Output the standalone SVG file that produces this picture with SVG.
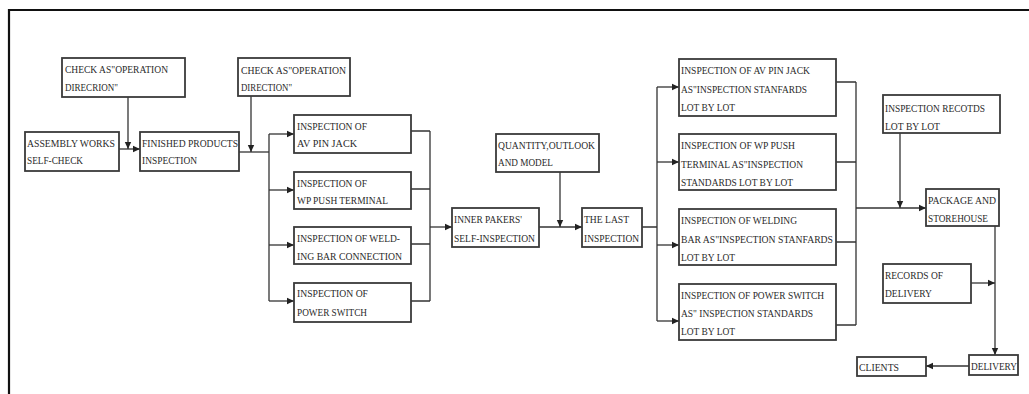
<svg xmlns="http://www.w3.org/2000/svg" width="1029" height="394" viewBox="0 0 1029 394">
<style>
.b{fill:#fff;stroke:#3a3a3a;stroke-width:1.8}
.t{font-family:"Liberation Serif","Times New Roman",serif;font-size:10.8px;fill:#2a2a2a}
.c{fill:none;stroke:#333;stroke-width:1.3}
.a{marker-end:url(#ah)}
</style>
<defs>
<marker id="ah" markerUnits="userSpaceOnUse" markerWidth="8" markerHeight="8" refX="7" refY="4" orient="auto">
<path d="M0,0.8 L7,4 L0,7.2 Z" fill="#222"/>
</marker>
</defs>
<rect width="1029" height="394" fill="#fff"/>
<path d="M9,394 V10 H1029" fill="none" stroke="#111" stroke-width="2.2"/>

<g id="connectors">
<path class="c a" d="M119,149 H140"/>
<path class="c a" d="M128,97 V149"/>
<path class="c" d="M239,152 H269"/>
<path class="c a" d="M251,96 V152"/>
<path class="c" d="M269,134 V301"/>
<path class="c a" d="M269,134 H294"/>
<path class="c a" d="M269,190 H294"/>
<path class="c a" d="M269,245 H294"/>
<path class="c a" d="M269,301 H294"/>
<path class="c" d="M411,131 H430 M411,189 H430 M411,244 H430 M411,301 H430 M430,131 V301"/>
<path class="c a" d="M430,227 H452"/>
<path class="c a" d="M539,227 H582"/>
<path class="c a" d="M560,172 V227"/>
<path class="c" d="M642,227 H657 M657,87 V321"/>
<path class="c a" d="M657,87 H679"/>
<path class="c a" d="M657,162 H679"/>
<path class="c a" d="M657,245 H679"/>
<path class="c a" d="M657,321 H679"/>
<path class="c" d="M836,82 H856 M836,162 H856 M836,242 H856 M836,325 H856 M856,82 V325"/>
<path class="c a" d="M856,208 H926"/>
<path class="c a" d="M900,133 V208"/>
<path class="c a" d="M995,226 V355"/>
<path class="c a" d="M971,283 H995"/>
<path class="c a" d="M969,366 H926"/>
</g>

<g id="check1">
<rect class="b" x="62" y="58" width="123" height="39"/>
<text class="t" x="65" y="73" textLength="103" lengthAdjust="spacingAndGlyphs">CHECK AS"OPERATION</text>
<text class="t" x="65" y="91" textLength="53" lengthAdjust="spacingAndGlyphs">DIRECRION"</text>
</g>
<g id="assembly">
<rect class="b" x="25" y="132" width="94" height="39"/>
<text class="t" x="27" y="147" textLength="88" lengthAdjust="spacingAndGlyphs">ASSEMBLY WORKS</text>
<text class="t" x="27" y="164" textLength="56" lengthAdjust="spacingAndGlyphs">SELF-CHECK</text>
</g>
<g id="finished">
<rect class="b" x="140" y="132" width="99" height="39"/>
<text class="t" x="142" y="147" textLength="96" lengthAdjust="spacingAndGlyphs">FINISHED PRODUCTS</text>
<text class="t" x="142" y="164" textLength="55" lengthAdjust="spacingAndGlyphs">INSPECTION</text>
</g>
<g id="check2">
<rect class="b" x="238" y="58" width="112" height="38"/>
<text class="t" x="241" y="74" textLength="105" lengthAdjust="spacingAndGlyphs">CHECK AS"OPERATION</text>
<text class="t" x="241" y="91" textLength="51" lengthAdjust="spacingAndGlyphs">DIRECTION"</text>
</g>
<g id="insp-av">
<rect class="b" x="294" y="115" width="117" height="38"/>
<text class="t" x="297" y="130" textLength="70" lengthAdjust="spacingAndGlyphs">INSPECTION OF</text>
<text class="t" x="297" y="147" textLength="60" lengthAdjust="spacingAndGlyphs">AV PIN JACK</text>
</g>
<g id="insp-wp">
<rect class="b" x="294" y="172" width="117" height="37"/>
<text class="t" x="297" y="187" textLength="70" lengthAdjust="spacingAndGlyphs">INSPECTION OF</text>
<text class="t" x="297" y="204" textLength="91" lengthAdjust="spacingAndGlyphs">WP PUSH TERMINAL</text>
</g>
<g id="insp-weld">
<rect class="b" x="294" y="227" width="117" height="37"/>
<text class="t" x="297" y="242" textLength="103" lengthAdjust="spacingAndGlyphs">INSPECTION OF WELD-</text>
<text class="t" x="297" y="260" textLength="105" lengthAdjust="spacingAndGlyphs">ING BAR CONNECTION</text>
</g>
<g id="insp-power">
<rect class="b" x="294" y="283" width="117" height="39"/>
<text class="t" x="297" y="297" textLength="71" lengthAdjust="spacingAndGlyphs">INSPECTION OF</text>
<text class="t" x="297" y="316" textLength="70" lengthAdjust="spacingAndGlyphs">POWER SWITCH</text>
</g>
<g id="quantity">
<rect class="b" x="496" y="134" width="103" height="38"/>
<text class="t" x="498" y="149" textLength="97" lengthAdjust="spacingAndGlyphs">QUANTITY,OUTLOOK</text>
<text class="t" x="498" y="166" textLength="55" lengthAdjust="spacingAndGlyphs">AND MODEL</text>
</g>
<g id="inner">
<rect class="b" x="452" y="208" width="87" height="39"/>
<text class="t" x="454" y="223" textLength="68" lengthAdjust="spacingAndGlyphs">INNER PAKERS'</text>
<text class="t" x="454" y="242" textLength="81" lengthAdjust="spacingAndGlyphs">SELF-INSPECTION</text>
</g>
<g id="last">
<rect class="b" x="582" y="208" width="60" height="39"/>
<text class="t" x="584" y="223" textLength="45" lengthAdjust="spacingAndGlyphs">THE LAST</text>
<text class="t" x="584" y="242" textLength="55" lengthAdjust="spacingAndGlyphs">INSPECTION</text>
</g>
<g id="lot-av">
<rect class="b" x="679" y="59" width="157" height="57"/>
<text class="t" x="681" y="74" textLength="129" lengthAdjust="spacingAndGlyphs">INSPECTION OF AV PIN JACK</text>
<text class="t" x="681" y="93" textLength="126" lengthAdjust="spacingAndGlyphs">AS"INSPECTION STANFARDS</text>
<text class="t" x="681" y="111" textLength="54" lengthAdjust="spacingAndGlyphs">LOT BY LOT</text>
</g>
<g id="lot-wp">
<rect class="b" x="679" y="134" width="157" height="56"/>
<text class="t" x="681" y="149" textLength="114" lengthAdjust="spacingAndGlyphs">INSPECTION OF WP PUSH</text>
<text class="t" x="681" y="168" textLength="122" lengthAdjust="spacingAndGlyphs">TERMINAL AS"INSPECTION</text>
<text class="t" x="681" y="186" textLength="112" lengthAdjust="spacingAndGlyphs">STANDARDS LOT BY LOT</text>
</g>
<g id="lot-weld">
<rect class="b" x="679" y="209" width="157" height="56"/>
<text class="t" x="681" y="224" textLength="116" lengthAdjust="spacingAndGlyphs">INSPECTION OF WELDING</text>
<text class="t" x="681" y="243" textLength="152" lengthAdjust="spacingAndGlyphs">BAR AS"INSPECTION STANFARDS</text>
<text class="t" x="681" y="261" textLength="54" lengthAdjust="spacingAndGlyphs">LOT BY LOT</text>
</g>
<g id="lot-power">
<rect class="b" x="679" y="284" width="157" height="56"/>
<text class="t" x="681" y="299" textLength="143" lengthAdjust="spacingAndGlyphs">INSPECTION OF POWER SWITCH</text>
<text class="t" x="681" y="317" textLength="132" lengthAdjust="spacingAndGlyphs">AS" INSPECTION STANDARDS</text>
<text class="t" x="681" y="335" textLength="54" lengthAdjust="spacingAndGlyphs">LOT BY LOT</text>
</g>
<g id="records">
<rect class="b" x="883" y="95" width="117" height="38"/>
<text class="t" x="885" y="112" textLength="100" lengthAdjust="spacingAndGlyphs">INSPECTION RECOTDS</text>
<text class="t" x="885" y="130" textLength="55" lengthAdjust="spacingAndGlyphs">LOT BY LOT</text>
</g>
<g id="package">
<rect class="b" x="926" y="189" width="73" height="37"/>
<text class="t" x="928" y="204" textLength="68" lengthAdjust="spacingAndGlyphs">PACKAGE AND</text>
<text class="t" x="928" y="222" textLength="60" lengthAdjust="spacingAndGlyphs">STOREHOUSE</text>
</g>
<g id="records-delivery">
<rect class="b" x="883" y="264" width="88" height="39"/>
<text class="t" x="885" y="279" textLength="58" lengthAdjust="spacingAndGlyphs">RECORDS OF</text>
<text class="t" x="885" y="297" textLength="47" lengthAdjust="spacingAndGlyphs">DELIVERY</text>
</g>
<g id="delivery">
<rect class="b" x="969" y="355" width="49" height="20"/>
<text class="t" x="971" y="370" textLength="46" lengthAdjust="spacingAndGlyphs">DELIVERY</text>
</g>
<g id="clients">
<rect class="b" x="857" y="357" width="69" height="19"/>
<text class="t" x="859" y="371" textLength="40" lengthAdjust="spacingAndGlyphs">CLIENTS</text>
</g>
</svg>
